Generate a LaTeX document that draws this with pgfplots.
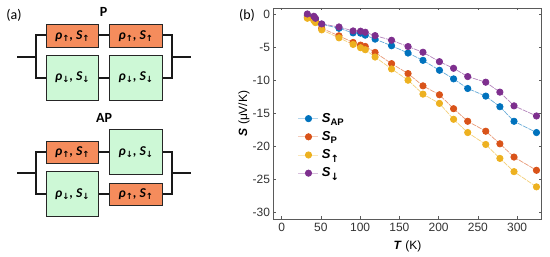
\documentclass[border=0pt]{standalone}
\usepackage{pgfplots}
\pgfplotsset{compat=1.18}
\usepackage{fontspec}
\setmainfont{Liberation Sans}
\newfontfamily\calib{Carlito}
\newfontfamily\dv{DejaVu Sans}
\definecolor{cb}{HTML}{0072BD}
\definecolor{co}{HTML}{D95319}
\definecolor{cy}{HTML}{EDB120}
\definecolor{cp}{HTML}{7E2F8E}
\definecolor{boxo}{HTML}{F58C5C}
\definecolor{boxg}{HTML}{CDF8D6}
\definecolor{axc}{HTML}{5A5A5A}
\newcommand{\up}{\raisebox{-2pt}{\dv\bfseries\fontsize{8.5}{8.5}\selectfont ↑}}
\newcommand{\dn}{\raisebox{-2pt}{\dv\bfseries\fontsize{8.5}{8.5}\selectfont ↓}}
\newcommand{\lu}{\calib\bfseries\itshape\fontsize{13.5}{13.5}\selectfont ρ\up, S\up}
\newcommand{\ld}{\calib\bfseries\itshape\fontsize{13.5}{13.5}\selectfont ρ\dn, S\dn}
\newcommand{\sub}[1]{\raisebox{-3.2pt}{\fontsize{9.5}{9.5}\selectfont #1}}
\newcommand{\subd}[1]{\raisebox{-4pt}{\dv\fontsize{10}{10}\selectfont #1}}
\tikzset{bx/.style={draw=black!85,line width=0.9pt},
  wire/.style={black!90,line width=1.7pt,line cap=butt,line join=miter}}
\newcommand{\obox}[4]{\draw[bx,fill=boxo] (#1,#2) rectangle (#3,#4); \node[inner sep=0pt] at ({(#1+#3)/2},{(#2+#4)/2}) {\lu};}
\newcommand{\gbox}[4]{\draw[bx,fill=boxg] (#1,#2) rectangle (#3,#4); \node[inner sep=0pt] at ({(#1+#3)/2},{(#2+#4)/2}) {\ld};}
\newcommand{\wires}[3]{%
  \draw[wire] (17.3,#1) -- (36,#1);
  \draw[wire] (46,#2) -- (36,#2) -- (36,#3) -- (46,#3);
  \draw[wire] (98.7,#2) -- (109.7,#2);
  \draw[wire] (98.7,#3) -- (109.7,#3);
  \draw[wire] (162,#2) -- (171.7,#2) -- (171.7,#3) -- (162,#3);
  \draw[wire] (171.7,#1) -- (190.7,#1);}
\begin{document}
\begin{tikzpicture}
\useasboundingbox (0,0) rectangle (550pt,257pt);
\begin{scope}[x=1pt,y=-1pt,yshift=257pt]
\wires{56.7}{35}{77.7}
\obox{46}{24.3}{98.7}{47}
\obox{109.7}{24.3}{162}{47}
\gbox{46}{55}{98.7}{100}
\gbox{109.7}{55}{162}{100}
\wires{173}{152}{194}
\obox{46}{141}{98.7}{163.3}
\gbox{109.7}{129.7}{162}{174.3}
\gbox{46}{171.7}{98.7}{216.7}
\obox{109.7}{183}{162}{205.3}
\node[font=\calib\bfseries\fontsize{14}{14}\selectfont] at (103.7,12) {P};
\node[font=\calib\bfseries\fontsize{14}{14}\selectfont] at (104,117.5) {AP};
\node[font=\calib\fontsize{14}{14}\selectfont] at (14,15) {(a)};
\node[font=\calib\fontsize{14}{14}\selectfont] at (247,15) {(b)};
\end{scope}
\begin{axis}[
  at={(273.5pt,38pt)},anchor=south west,scale only axis,
  width=268pt,height=211pt,
  xmin=-10.4,xmax=331,ymin=-30.95,ymax=0.9,
  xtick={0,50,...,300},ytick={0,-5,...,-30},
  tick align=inside,tick pos=both,
  major tick length=2.5pt,
  axis line style={axc,line width=0.6pt},
  tick style={axc,line width=0.5pt},
  tick label style={font=\fontsize{12}{12}\selectfont,text=black!80},
  /pgf/number format/assume math mode=true,
  xticklabel style={yshift=-1pt},
  xlabel={\textbf{\textit{T}} (K)},
  ylabel={\textbf{\textit{S}} (μV/K)},
  every axis x label/.style={at={(axis description cs:0.5,0)},anchor=center,yshift=-27pt,font=\fontsize{12}{12}\selectfont},
  every axis y label/.style={at={(axis description cs:0,0.5)},rotate=90,anchor=center,yshift=29.5pt,font=\fontsize{12}{12}\selectfont},
  legend cell align=left,
  legend style={draw=none,fill=none,at={(axis cs:21,-14.7)},anchor=north west,
    row sep=3.6pt,inner sep=0pt,outer sep=0pt,font=\bfseries\fontsize{13}{13}\selectfont},
  legend image code/.code={
    \draw[#1,solid,mark=none,line width=0.7pt,opacity=0.5] (-10pt,0) -- (10pt,0);
    \draw[#1,only marks] plot coordinates {(0pt,0)};
  },
  every axis plot/.append style={dash pattern=on 5pt off 1pt,line width=0.7pt,mark=*,mark size=3.2pt},
]
\addplot[draw=cb!60,mark options={solid,fill=cb,draw=cb}] coordinates {
(32.7,-.25)(41,-.5)(43,-.8)(51,-1.56)(73,-2.16)(91,-2.86)(100.5,-2.9)(106.5,-3.2)(119,-3.8)(140,-4.8)(161,-5.9)(180,-7)(201,-8.5)(219,-9.8)(237,-11.25)(260,-12.4)(278,-14)(296,-16.2)(324.6,-17.9)};
\addlegendentry{\hspace*{1pt}\textit{S}\sub{AP}}
\addplot[draw=co!60,mark options={solid,fill=co,draw=co}] coordinates {
(32.7,-.5)(41,-.9)(43,-1.15)(51,-2.16)(73,-3.3)(91,-4.3)(100.5,-4.7)(106.5,-4.9)(119,-5.8)(140,-7.5)(161,-9)(180,-10.85)(201,-12.2)(219,-14.3)(237,-16.2)(260,-17.7)(278,-19.6)(296,-21.6)(324.6,-23.6)};
\addlegendentry{\hspace*{1pt}\textit{S}\sub{P}}
\addplot[draw=cy!60,mark options={solid,fill=cy,draw=cy}] coordinates {
(32.7,-.65)(41,-1)(43,-1.3)(51,-2.4)(73,-3.6)(91,-4.6)(100.5,-5.1)(106.5,-5.4)(119,-6.5)(140,-8.3)(161,-10)(180,-12.1)(201,-13.5)(219,-15.9)(237,-17.9)(260,-19.7)(278,-21.8)(296,-23.8)(324.6,-26.1)};
\addlegendentry{\hspace*{1pt}\textit{S}\subd{↑}}
\addplot[draw=cp!60,mark options={solid,fill=cp,draw=cp}] coordinates {
(32.7,0)(41,-.35)(43,-.65)(51,-1.5)(73,-1.96)(91,-2.56)(100.5,-2.6)(106.5,-2.76)(119,-3.27)(140,-3.97)(161,-4.92)(180,-5.78)(201,-7.2)(219,-8.2)(237,-9.45)(260,-10.3)(278,-11.8)(296,-13.87)(324.6,-15.4)};
\addlegendentry{\hspace*{1pt}\textit{S}\subd{↓}}
\end{axis}
\end{tikzpicture}
\end{document}
